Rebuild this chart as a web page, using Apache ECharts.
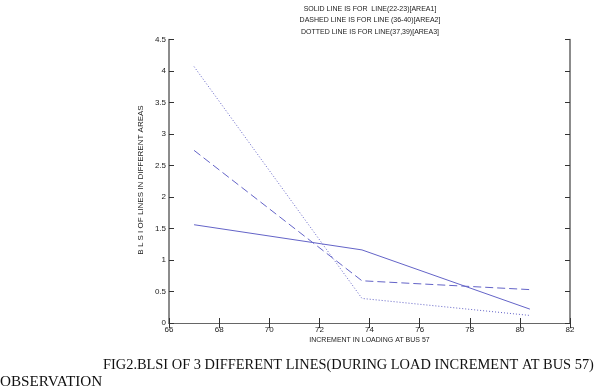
<!DOCTYPE html>
<html><head><meta charset="utf-8">
<script src="https://cdn.jsdelivr.net/npm/echarts@6/dist/echarts.min.js"></script>
<style>html,body{margin:0;padding:0;background:#fff}#c{width:600px;height:391px}</style>
</head><body><div id="c"></div>
<script>
var xValues = [67.0, 73.7, 80.4];
var solidArea1 = [1.56, 1.16, 0.22];
var dashedArea2 = [2.74, 0.67, 0.53];
var dottedArea3 = [4.07, 0.39, 0.12];
var titleLines = ['SOLID LINE IS FOR  LINE(22-23)[AREA1]', 'DASHED LINE IS FOR LINE (36-40)[AREA2]', 'DOTTED LINE IS FOR LINE(37,39)[AREA3]'];
var xName = 'INCREMENT IN LOADING AT BUS 57';
var yName = 'B L S I OF LINES IN DIFFERENT AREAS';
var caption = 'FIG2.BLSI OF 3 DIFFERENT LINES(DURING LOAD INCREMENT AT BUS 57)';
var caption2 = 'OBSERVATION';

function pairs(ys){ return xValues.map(function(x,i){ return [x, ys[i]]; }); }
var lineColor = '#6464c8';
var axisColor = '#666';
var sans = 'Liberation Sans, Arial, sans-serif';
var serif = 'Liberation Serif, Times New Roman, serif';
var chart = echarts.init(document.getElementById('c'));
var tickLabel = {color:'#222', fontSize:8, fontFamily:sans, margin:3};
chart.setOption({
  animation:false,
  backgroundColor:'#fff',
  grid:{left:169, top:39.5, right:30, bottom:68, containLabel:false},
  xAxis:[
    {type:'value', min:66, max:82, interval:2, position:'bottom',
     axisLine:{lineStyle:{color:axisColor,width:1}}, axisTick:{inside:true,length:5,lineStyle:{color:'#333'}},
     axisLabel:tickLabel, splitLine:{show:false}},
    {type:'value', min:66, max:82, interval:2, position:'top',
     axisLine:{lineStyle:{color:axisColor,width:1}}, axisTick:{inside:true,length:5,lineStyle:{color:'#333'}},
     axisLabel:{show:false}, splitLine:{show:false}}
  ],
  yAxis:[
    {type:'value', min:0, max:4.5, interval:0.5, position:'left',
     axisLine:{show:true,lineStyle:{color:axisColor,width:1.5}}, axisTick:{show:true,inside:true,length:5,lineStyle:{color:'#333'}},
     axisLabel:tickLabel, splitLine:{show:false}},
    {type:'value', min:0, max:4.5, interval:0.5, position:'right',
     axisLine:{show:true,lineStyle:{color:axisColor,width:1.5}}, axisTick:{show:true,inside:true,length:5,lineStyle:{color:'#333'}},
     axisLabel:{show:false}, splitLine:{show:false}}
  ],
  series:[
    {type:'line', data:pairs(solidArea1), symbol:'none', lineStyle:{color:lineColor,width:1,type:'solid'}},
    {type:'line', data:pairs(dashedArea2), symbol:'none', lineStyle:{color:lineColor,width:1,type:[8,4]}},
    {type:'line', data:pairs(dottedArea3), symbol:'none', lineStyle:{color:lineColor,width:1,type:[1,2]}}
  ],
  graphic:[
    {type:'text', x:370, y:3, style:{text:titleLines.join('\n'), align:'center', verticalAlign:'top', font:'7px '+sans, lineHeight:11.5, fill:'#222'}},
    {type:'text', x:369.5, y:340, style:{text:xName, align:'center', verticalAlign:'middle', font:'7px '+sans, fill:'#222'}},
    {type:'text', x:141, y:180, rotation:Math.PI/2, style:{text:yName, align:'center', verticalAlign:'middle', font:'8px '+sans, fill:'#222'}},
    {type:'text', x:103, y:365, style:{text:caption, align:'left', verticalAlign:'middle', font:'14.4px '+serif, fill:'#111'}},
    {type:'text', x:0, y:382, style:{text:caption2, align:'left', verticalAlign:'middle', font:'15.2px '+serif, fill:'#111'}}
  ]
});
</script></body></html>
